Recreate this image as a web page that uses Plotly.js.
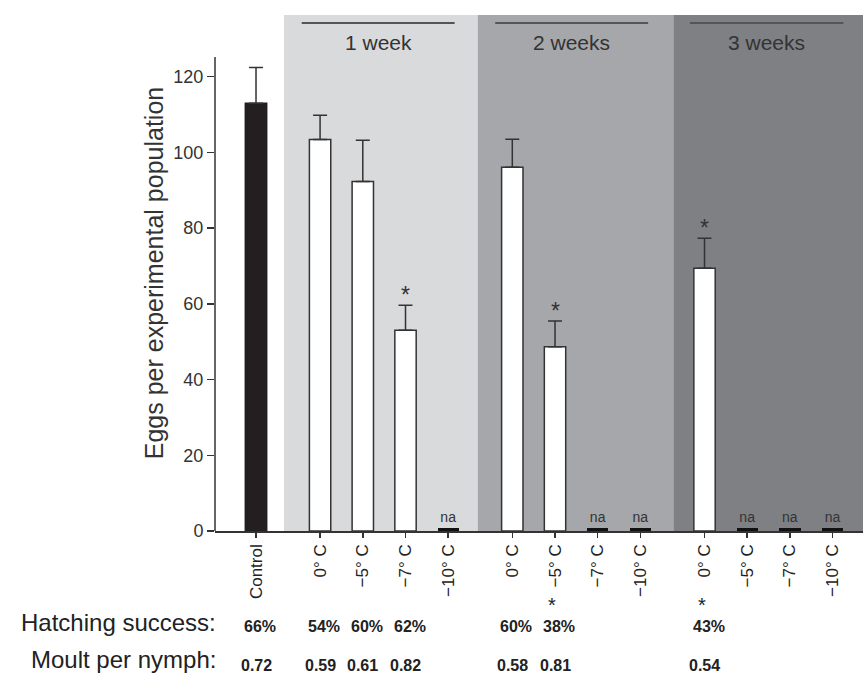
<!DOCTYPE html>
<html>
<head>
<meta charset="utf-8">
<script src="https://cdn.plot.ly/plotly-3.0.1.min.js"></script>
<style>html,body{margin:0;padding:0;background:#fff;}#chart{width:863px;height:674px;}</style>
</head>
<body>
<div id="chart"></div>
<script>
// ---- data ----
const groups = ['Control', '1 week', '2 weeks', '3 weeks'];
const barGroup = [0, 1, 1, 1, 1, 2, 2, 2, 2, 3, 3, 3, 3];
const tickLabels = ['Control', '0° C', '−5° C', '−7° C', '−10° C', '0° C', '−5° C', '−7° C', '−10° C', '0° C', '−5° C', '−7° C', '−10° C'];
const eggs = [113.0, 103.4, 92.3, 53.0, null, 96.1, 48.7, null, null, 69.4, null, null, null];
const eggsErr = [9.4, 6.4, 10.9, 6.6, null, 7.4, 6.8, null, null, 7.9, null, null, null];
const eggsSig = [false, false, false, true, false, false, true, false, false, true, false, false, false];
const hatching = ['66%', '54%', '60%', '62%', '', '60%', '38%', '', '', '43%', '', '', ''];
const hatchingSig = [false, false, false, false, false, false, true, false, false, true, false, false, false];
const moult = ['0.72', '0.59', '0.61', '0.82', '', '0.58', '0.81', '', '', '0.54', '', '', ''];

// ---- layout helpers ----
const FONT = 'Liberation Sans, Arial, Helvetica, sans-serif';
const GROUP_GAP = 1.5;
const xPos = [];
{
  let pos = 0, prevGroup = barGroup[0];
  barGroup.forEach((g, i) => {
    if (i > 0) pos += (g === prevGroup) ? 1 : GROUP_GAP;
    xPos.push(pos);
    prevGroup = g;
  });
}
const NA_MARK = 0.7;

const idxData = eggs.map((v, i) => v !== null ? i : -1).filter(i => i >= 0);
const idxNA = eggs.map((v, i) => v === null ? i : -1).filter(i => i >= 0);

const barTrace = {
  type: 'bar',
  x: idxData.map(i => xPos[i]),
  y: idxData.map(i => eggs[i]),
  width: 0.5,
  marker: {
    color: idxData.map(i => barGroup[i] === 0 ? '#231f20' : '#ffffff'),
    line: {color: idxData.map(i => barGroup[i] === 0 ? '#231f20' : '#333333'), width: 1.5}
  },
  error_y: {
    type: 'data', symmetric: false,
    array: idxData.map(i => eggsErr[i]),
    arrayminus: idxData.map(() => 0),
    color: '#333333', thickness: 1.5, width: 7
  },
  hoverinfo: 'skip', showlegend: false
};

const naTrace = {
  type: 'bar',
  x: idxNA.map(i => xPos[i]),
  y: idxNA.map(() => NA_MARK),
  width: 0.5,
  marker: {color: '#111111', line: {width: 0}},
  text: idxNA.map(() => 'na'),
  textposition: 'outside',
  textfont: {family: FONT, size: 14, color: '#333333'},
  cliponaxis: false,
  hoverinfo: 'skip', showlegend: false
};

// band shapes and labels
const bandRanges = [[0.656, 5.19], [5.19, 9.77], [9.77, 14.21]];
const bandColors = ['#d9dadc', '#a6a7aa', '#7f8083'];
const bandLines = [[1.07, 4.65], [5.6, 9.18], [10.16, 13.75]];

const shapes = [];
bandRanges.forEach((r, k) => {
  shapes.push({type: 'rect', xref: 'x', yref: 'paper', x0: r[0], x1: r[1], y0: 0, y1: 1,
    fillcolor: bandColors[k], line: {width: 0}, layer: 'below'});
});
bandLines.forEach((r, k) => {
  shapes.push({type: 'line', xref: 'x', yref: 'paper', x0: r[0], x1: r[1], y0: 0.9845, y1: 0.9845,
    line: {color: '#555555', width: 2}, layer: 'above'});
});
// y axis line (stops at 125)
shapes.push({type: 'line', xref: 'paper', yref: 'y', x0: 0, x1: 0, y0: 0, y1: 125.2,
  line: {color: '#333333', width: 1.5}, layer: 'above'});

const annotations = [];
bandLines.forEach((r, k) => {
  annotations.push({xref: 'x', yref: 'paper', x: (r[0] + r[1]) / 2, y: 0.9467,
    text: groups[k + 1], showarrow: false, xanchor: 'center', yanchor: 'middle',
    font: {family: FONT, size: 21, color: '#333333'}});
});
// significance stars above bars
eggs.forEach((v, i) => {
  if (eggsSig[i]) {
    annotations.push({xref: 'x', yref: 'y', x: xPos[i], y: v + eggsErr[i], yshift: 10,
      text: '*', showarrow: false, xanchor: 'center', yanchor: 'middle',
      font: {family: FONT, size: 23, color: '#333333'}});
  }
});
// rows below axis
annotations.push({xref: 'paper', yref: 'paper', x: 0.0046, y: -0.178, text: 'Hatching success:',
  showarrow: false, xanchor: 'right', yanchor: 'middle', font: {family: FONT, size: 24, color: '#222222'}});
annotations.push({xref: 'paper', yref: 'paper', x: 0.0046, y: -0.249, text: 'Moult per nymph:',
  showarrow: false, xanchor: 'right', yanchor: 'middle', font: {family: FONT, size: 24, color: '#222222'}});
hatching.forEach((t, i) => {
  if (t) {
    annotations.push({xref: 'x', yref: 'paper', x: xPos[i], xshift: 4, y: -0.185, text: '<b>' + t + '</b>',
      showarrow: false, xanchor: 'center', yanchor: 'middle', font: {family: FONT, size: 16, color: '#222222'}});
  }
  if (hatchingSig[i]) {
    annotations.push({xref: 'x', yref: 'paper', x: xPos[i], xshift: -3, y: -0.143, text: '*',
      showarrow: false, xanchor: 'center', yanchor: 'middle', font: {family: FONT, size: 20, color: '#222222'}});
  }
});
moult.forEach((t, i) => {
  if (t) {
    annotations.push({xref: 'x', yref: 'paper', x: xPos[i], y: -0.261, text: '<b>' + t + '</b>',
      showarrow: false, xanchor: 'center', yanchor: 'middle', font: {family: FONT, size: 16, color: '#222222'}});
  }
});

const layout = {
  width: 863, height: 674,
  margin: {l: 215, r: 0, t: 15, b: 143, pad: 0},
  paper_bgcolor: '#ffffff', plot_bgcolor: '#ffffff',
  font: {family: FONT, color: '#333333'},
  bargap: 0,
  xaxis: {
    range: [-0.96, 14.21], showgrid: false, zeroline: false,
    showline: true, linecolor: '#333333', linewidth: 1.5,
    ticks: 'outside', ticklen: 5, tickwidth: 1.5, tickcolor: '#333333',
    tickvals: xPos, ticktext: tickLabels, tickangle: -90,
    tickfont: {family: FONT, size: 17, color: '#222222'}
  },
  yaxis: {
    range: [0, 136.3], showgrid: false, zeroline: false, showline: false,
    ticks: 'outside', ticklen: 7, tickwidth: 1.5, tickcolor: '#333333',
    tickvals: [0, 20, 40, 60, 80, 100, 120],
    tickfont: {family: FONT, size: 18, color: '#333333'},
    title: {text: 'Eggs per experimental population', standoff: 2,
      font: {family: FONT, size: 25, color: '#333333'}}
  },
  shapes: shapes,
  annotations: annotations
};

Plotly.newPlot('chart', [barTrace, naTrace], layout, {staticPlot: true, displayModeBar: false});
</script>
</body>
</html>
